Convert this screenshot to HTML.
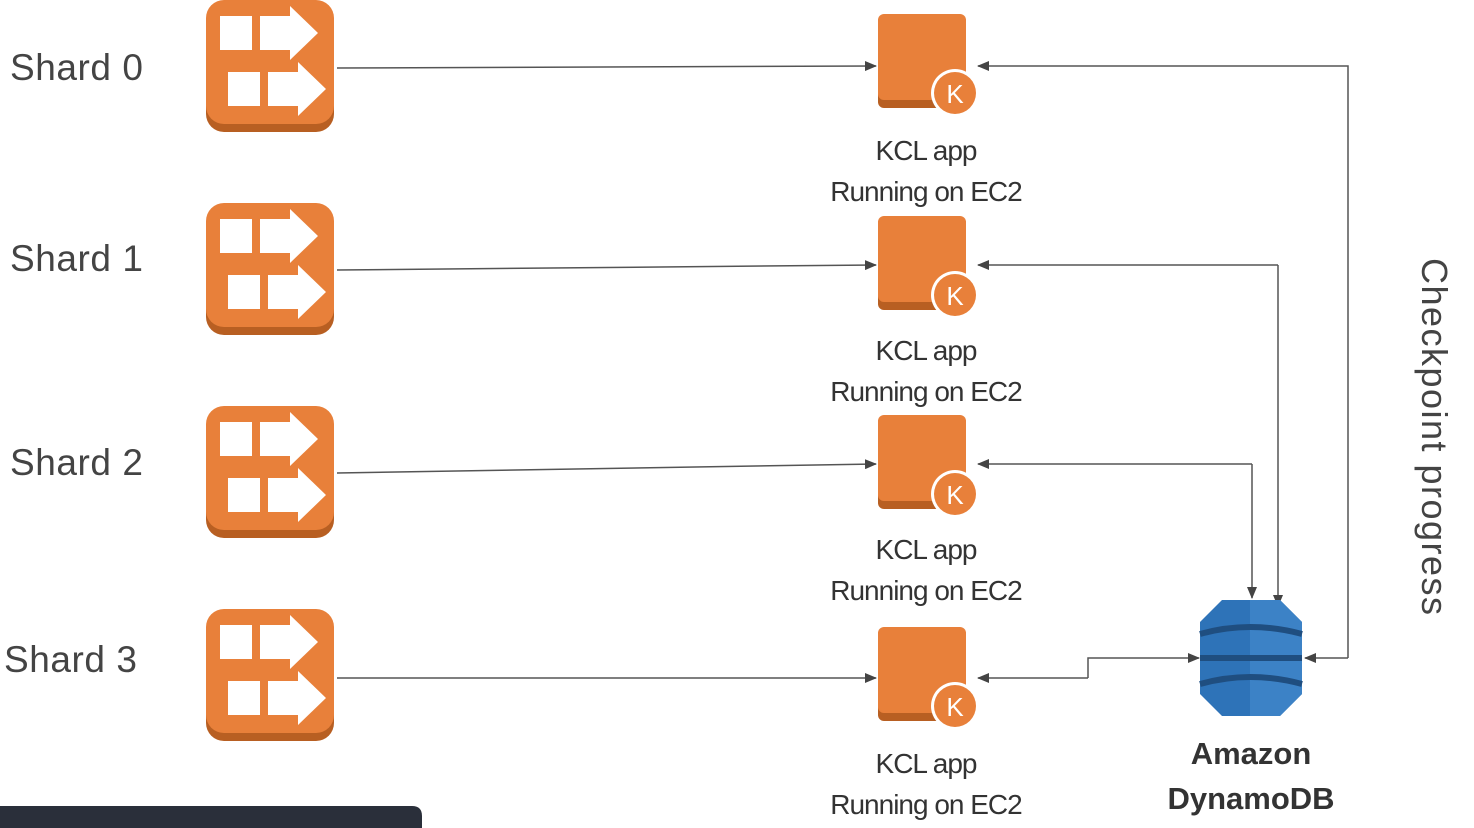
<!DOCTYPE html>
<html><head><meta charset="utf-8"><style>
html,body{margin:0;padding:0;background:#fff;width:1474px;height:828px;overflow:hidden}
svg{display:block}
text{font-family:"Liberation Sans",sans-serif}
</style></head><body>
<svg width="1474" height="828" viewBox="0 0 1474 828" xmlns="http://www.w3.org/2000/svg">
<defs>
<marker id="a" markerWidth="12" markerHeight="10" refX="11" refY="5" orient="auto" markerUnits="userSpaceOnUse">
<path d="M0,0 L12,5 L0,10 z" fill="#444"/></marker>
<g id="shard">
<rect x="0" y="6" width="128" height="126" rx="18" fill="#B85F22"/>
<rect x="0" y="0" width="128" height="124" rx="18" fill="#E8803A"/>
<rect x="14" y="16" width="32" height="34" fill="#fff"/>
<path d="M54,16 H84 V6 L112,33 L84,60 V50 H54 z" fill="#fff"/>
<rect x="22" y="72" width="32" height="34" fill="#fff"/>
<path d="M62,72 H92 V62 L120,89 L92,116 V106 H62 z" fill="#fff"/>
</g>
<g id="kcl">
<rect x="0" y="4" width="88" height="90" rx="6" fill="#B85F22"/>
<rect x="0" y="0" width="88" height="86" rx="6" fill="#E8803A"/>
<circle cx="77" cy="79" r="24" fill="#fff"/>
<circle cx="77" cy="79" r="21" fill="#E8803A"/>
<text x="77" y="89" font-size="26" fill="#fff" text-anchor="middle">K</text>
</g>
</defs>
<g font-size="37" fill="#444">
<text x="10" y="80" textLength="133">Shard 0</text>
<text x="10" y="271" textLength="133">Shard 1</text>
<text x="10" y="475" textLength="133">Shard 2</text>
<text x="4" y="672" textLength="133">Shard 3</text>
</g>
<use href="#shard" x="206" y="0"/>
<use href="#shard" x="206" y="203"/>
<use href="#shard" x="206" y="406"/>
<use href="#shard" x="206" y="609"/>
<use href="#kcl" x="878" y="14"/>
<use href="#kcl" x="878" y="216"/>
<use href="#kcl" x="878" y="415"/>
<use href="#kcl" x="878" y="627"/>
<g font-size="28" fill="#333" text-anchor="middle" letter-spacing="-1">
<text x="926" y="160">KCL app</text><text x="926" y="201">Running on EC2</text>
<text x="926" y="360">KCL app</text><text x="926" y="401">Running on EC2</text>
<text x="926" y="559">KCL app</text><text x="926" y="600">Running on EC2</text>
<text x="926" y="773">KCL app</text><text x="926" y="814">Running on EC2</text>
</g>
<g stroke="#555" stroke-width="1.5" fill="none" marker-end="url(#a)">
<path d="M337,68 L876,66"/>
<path d="M337,270 L876,265"/>
<path d="M337,473 L876,464"/>
<path d="M337,678 L876,678"/>
<path d="M1348,658 V66 H978"/>
<path d="M1348,658 H1305"/>
<path d="M1278,265 H978"/>
<path d="M1278,265 V606"/>
<path d="M1252,464 H978"/>
<path d="M1252,464 V598"/>
<path d="M1088,678 H978"/>
<path d="M1088,678 V658 H1199"/>
</g>
<g>
<path d="M1222,600 H1280 L1302,622 V694 L1280,716 H1222 L1200,694 V622 z" fill="#2E73B8"/>
<path d="M1250,600 H1280 L1302,622 V694 L1280,716 H1250 z" fill="#3C82C6"/>
<path d="M1200,634 Q1250,620 1302,634" stroke="#1F4E80" stroke-width="6" fill="none"/>
<path d="M1200,658 H1302" stroke="#1F4E80" stroke-width="6"/>
<path d="M1200,684 Q1250,670 1302,684" stroke="#1F4E80" stroke-width="6" fill="none"/>
</g>
<g font-size="31" font-weight="bold" fill="#333" text-anchor="middle">
<text x="1251" y="764">Amazon</text>
<text x="1251" y="809">DynamoDB</text>
</g>
<text x="0" y="0" font-size="36" fill="#444" textLength="357" transform="translate(1422,258) rotate(90)">Checkpoint progress</text>
<path d="M0,806 H412 Q422,806 422,816 V828 H0 z" fill="#2A2F3A"/>
</svg>
</body></html>
